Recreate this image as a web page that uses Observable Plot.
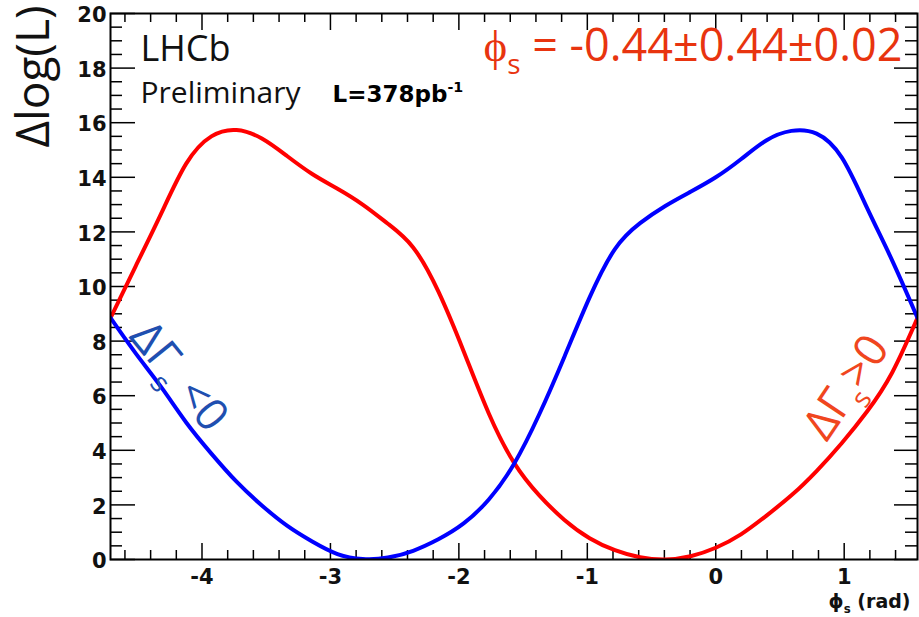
<!DOCTYPE html>
<html>
<head>
<meta charset="utf-8">
<script src="https://cdn.jsdelivr.net/npm/d3@7"></script>
<script src="https://cdn.jsdelivr.net/npm/@observablehq/plot@0.6"></script>
<style>
  html, body { margin: 0; padding: 0; background: #fff; }
  #chart svg { display: block; }
</style>
</head>
<body>
<div id="chart"></div>
<script>
// ---- Data ----
// phi_s scan points (rad)
const phiScan = [-4.712, -4.516, -4.320, -4.123, -3.927, -3.731, -3.534, -3.338, -3.142, -2.945, -2.749, -2.553, -2.356, -2.160, -1.963, -1.767, -1.571, -1.374, -1.178, -0.982, -0.785, -0.589, -0.393, -0.196, 0.0, 0.196, 0.393, 0.589, 0.785, 0.982, 1.178, 1.374, 1.571];
// Delta log(L) for the Delta Gamma_s > 0 solution (red)
const dllRed = [8.85, 10.75, 12.65, 14.5, 15.5, 15.73, 15.42, 14.78, 14.12, 13.58, 13.0, 12.3, 11.43, 9.82, 7.63, 5.35, 3.55, 2.35, 1.45, 0.78, 0.34, 0.08, 0.0, 0.12, 0.43, 0.92, 1.6, 2.35, 3.24, 4.27, 5.42, 6.85, 8.85];
// Delta log(L) for the Delta Gamma_s < 0 solution (blue)
const dllBlue = [8.85, 7.55, 6.33, 5.02, 3.88, 2.85, 1.98, 1.24, 0.66, 0.2, 0.02, 0.07, 0.32, 0.74, 1.32, 2.2, 3.5, 5.32, 7.43, 9.6, 11.37, 12.32, 12.95, 13.47, 14.0, 14.66, 15.35, 15.7, 15.6, 14.72, 12.88, 10.95, 8.85];

const xMajorTicks = [-4, -3, -2, -1, 0, 1];
const yMajorTicks = [0, 2, 4, 6, 8, 10, 12, 14, 16, 18, 20];
const xMinorTicks = d3.range(-46, 15, 2).map(d => d / 10).filter(d => !xMajorTicks.includes(d));
const yMinorTicks = d3.range(1, 40).map(d => d / 2).filter(d => !yMajorTicks.includes(d));

const redSeries = phiScan.map((p, i) => ({phi: p, dll: dllRed[i]}));
const blueSeries = phiScan.map((p, i) => ({phi: p, dll: dllBlue[i]}));

// ---- Layout ----
const W = 919, H = 617;
const mL = 110, mR = 2, mT = 13, mB = 58;
const innerW = W - mL - mR, innerH = H - mT - mB;
const tickStyle = {stroke: "#000", strokeWidth: 1.5};

const plot = Plot.plot({
  width: W,
  height: H,
  marginLeft: mL, marginRight: mR, marginTop: mT, marginBottom: mB,
  style: {background: "#fff", color: "#111", fontFamily: "DejaVu Sans"},
  x: {domain: [-3 * Math.PI / 2, Math.PI / 2]},
  y: {domain: [0, 20]},
  marks: [
    // inward ticks on all four sides
    Plot.tickX(xMajorTicks, {x: d => d, insetTop: innerH - 16, ...tickStyle}),
    Plot.tickX(xMinorTicks, {x: d => d, insetTop: innerH - 9, ...tickStyle}),
    Plot.tickX(xMajorTicks, {x: d => d, insetBottom: innerH - 17, ...tickStyle}),
    Plot.tickX(xMinorTicks, {x: d => d, insetBottom: innerH - 9, ...tickStyle}),
    Plot.tickY(yMajorTicks, {y: d => d, insetRight: innerW - 25, ...tickStyle}),
    Plot.tickY(yMinorTicks, {y: d => d, insetRight: innerW - 12, ...tickStyle}),
    Plot.tickY(yMajorTicks, {y: d => d, insetLeft: innerW - 23, ...tickStyle}),
    Plot.tickY(yMinorTicks, {y: d => d, insetLeft: innerW - 12, ...tickStyle}),
    // curves
    Plot.line(redSeries, {x: "phi", y: "dll", stroke: "#ff0000", strokeWidth: 4, curve: "natural", clip: true}),
    Plot.line(blueSeries, {x: "phi", y: "dll", stroke: "#0000ff", strokeWidth: 4, curve: "natural", clip: true}),
    Plot.frame({stroke: "#000", strokeWidth: 2}),
    // tick labels
    Plot.axisX(xMajorTicks, {anchor: "bottom", tickSize: 0, tickPadding: 10, label: null,
      tickFormat: d => String(d), fontSize: 21, fontWeight: "bold", fontFamily: "DejaVu Sans", fill: "#111"}),
    Plot.axisY(yMajorTicks, {anchor: "left", tickSize: 0, tickPadding: 4, label: null, dy: 2,
      tickFormat: d => String(d), fontSize: 21, fontWeight: "bold", fontFamily: "DejaVu Sans", fill: "#111"}),
    // axis titles
    Plot.text(["Δlog(L)"], {text: d => d, frameAnchor: "top-left", dx: -62, dy: -8, rotate: -90,
      textAnchor: "end", lineAnchor: "bottom", fontSize: 46, fontFamily: "Open Sans", fill: "#111"}),
    Plot.text(["ϕ_{s} (rad)"], {text: d => d, frameAnchor: "bottom-right", dx: -7, dy: 48,
      textAnchor: "end", lineAnchor: "bottom", fontSize: 19, fontWeight: "bold", fontFamily: "DejaVu Sans", fill: "#111"}),
    // annotations
    Plot.text(["LHCb"], {text: d => d, frameAnchor: "top-left", dx: 30, dy: 47,
      textAnchor: "start", lineAnchor: "bottom", fontSize: 36, fontFamily: "Open Sans", fill: "#111"}),
    Plot.text(["Preliminary"], {text: d => d, frameAnchor: "top-left", dx: 30, dy: 89,
      textAnchor: "start", lineAnchor: "bottom", fontSize: 30, fontFamily: "Open Sans", fill: "#111"}),
    Plot.text(["L=378pb^{-1}"], {text: d => d, frameAnchor: "top-left", dx: 222, dy: 88,
      textAnchor: "start", lineAnchor: "bottom", fontSize: 23, fontWeight: "bold", fontFamily: "DejaVu Sans", fill: "#000"}),
    Plot.text(["ϕ_{s} = -0.44±0.44±0.02"], {text: d => d, frameAnchor: "top-left", dx: 373, dy: 47,
      textAnchor: "start", lineAnchor: "bottom", fontSize: 45, fontFamily: "Open Sans", fill: "#e8340f"}),
    Plot.text([{phi: -4.18, dll: 6.7, label: "ΔΓ_{s} <0"}], {x: "phi", y: "dll", text: "label", rotate: 51,
      textAnchor: "middle", lineAnchor: "middle", fontSize: 45, fontFamily: "Open Sans", fill: "#1f4fb0"}),
    Plot.text([{phi: 1.02, dll: 6.3, label: "ΔΓ_{s}>0"}], {x: "phi", y: "dll", text: "label", rotate: -56,
      textAnchor: "middle", lineAnchor: "middle", fontSize: 45, fontFamily: "Open Sans", fill: "#f0461e"})
  ]
});

document.getElementById("chart").appendChild(plot);

// Convert _{..} and ^{..} markup into real sub/superscript tspans
const SVGNS = "http://www.w3.org/2000/svg";
d3.select(plot).selectAll("text").each(function () {
  const s = this.textContent;
  if (!/[_^]\{/.test(s)) return;
  const fs = parseFloat(getComputedStyle(this).fontSize) || 16;
  const parts = s.split(/(_\{[^}]*\}|\^\{[^}]*\})/).filter(p => p.length);
  this.textContent = "";
  let shift = 0;
  for (const p of parts) {
    let target = 0, content = p, small = false;
    if (p.startsWith("_{")) { target = 0.3 * fs; content = p.slice(2, -1); small = true; }
    else if (p.startsWith("^{")) { target = -0.42 * fs; content = p.slice(2, -1); small = true; }
    const t = document.createElementNS(SVGNS, "tspan");
    t.setAttribute("dy", `${target - shift}px`);
    if (small) t.setAttribute("font-size", `${0.62 * fs}px`);
    t.textContent = content;
    this.appendChild(t);
    shift = target;
  }
});
</script>
</body>
</html>
